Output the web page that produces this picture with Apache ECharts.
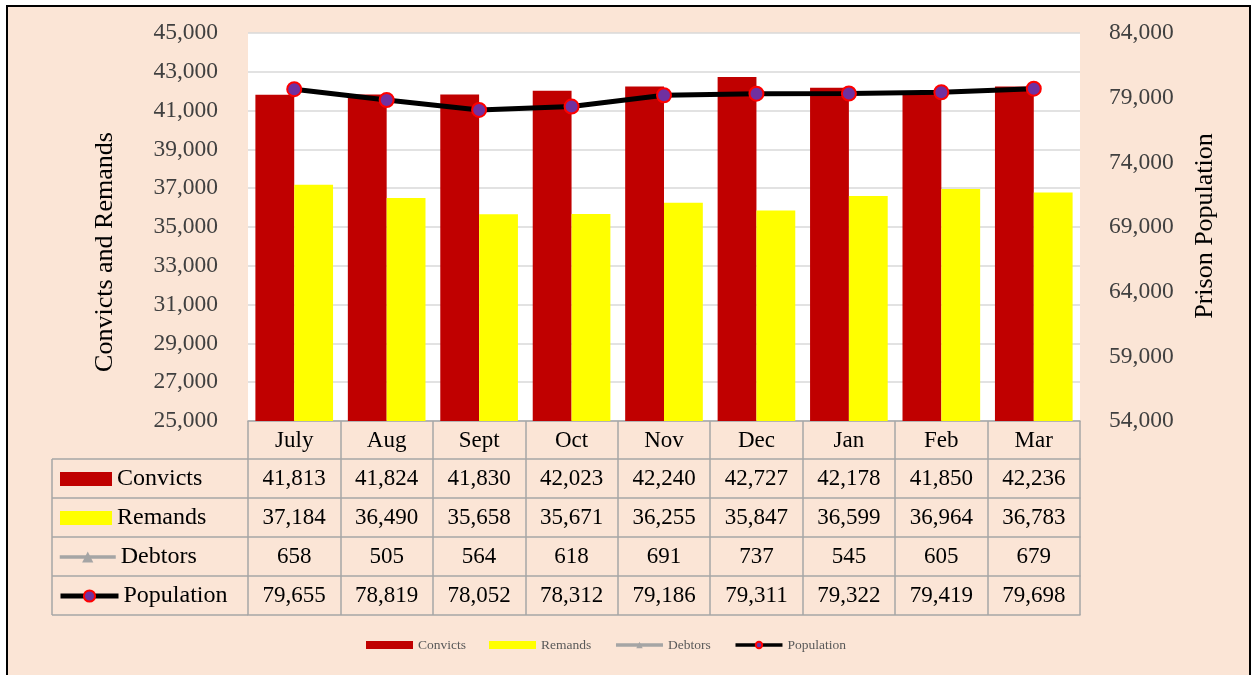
<!DOCTYPE html>
<html>
<head>
<meta charset="utf-8">
<script src="https://cdn.jsdelivr.net/npm/echarts@6/dist/echarts.min.js"></script>
<style>
  html, body { margin: 0; padding: 0; background: #fff; }
  #frame { position: absolute; left: 6px; top: 5px; width: 1241px; height: 700px;
           border: 2px solid #000; background: #FBE5D6; }
  #main { position: absolute; left: 0; top: 0; width: 1252px; height: 675px; }
</style>
</head>
<body>
<div id="frame"></div>
<div id="main"></div>
<script>
var months = ['July', 'Aug', 'Sept', 'Oct', 'Nov', 'Dec', 'Jan', 'Feb', 'Mar'];
var convicts = [41813, 41824, 41830, 42023, 42240, 42727, 42178, 41850, 42236];
var remands = [37184, 36490, 35658, 35671, 36255, 35847, 36599, 36964, 36783];
var debtors = [658, 505, 564, 618, 691, 737, 545, 605, 679];
var population = [79655, 78819, 78052, 78312, 79186, 79311, 79322, 79419, 79698];

var FONT = 'Liberation Serif';
var gridLine = '#A6A6A6';

function fmt(v) {
	return String(v).replace(/\B(?=(\d{3})+(?!\d))/g, ',');
}

// one x axis per table row, the ticks draw the cell walls
function tableAxis(offset, values, showTick) {
	return {
		type: 'category',
		data: months,
		gridIndex: 0,
		position: 'bottom',
		offset: offset,
		axisLine: { show: true, lineStyle: { color: gridLine, width: 1.5 } },
		axisTick: { show: showTick, alignWithLabel: false, interval: 0, length: offset === 0 ? 38 : 39,
			lineStyle: { color: gridLine, width: 1.5 } },
		axisLabel: {
			show: !!values, interval: 0, margin: 8,
			fontFamily: FONT, fontSize: 23, color: '#000',
			formatter: function (v, i) { return values === months ? v : fmt(values[i]); }
		},
		splitLine: { show: false }
	};
}

var rowTops = [459, 498, 537, 576, 615];
var graphics = [];
rowTops.forEach(function (y) {
	graphics.push({ type: 'line', shape: { x1: 52, y1: y, x2: 248, y2: y },
		style: { stroke: gridLine, lineWidth: 1.5 } });
});
graphics.push({ type: 'line', shape: { x1: 52, y1: 459, x2: 52, y2: 615 },
	style: { stroke: gridLine, lineWidth: 1.5 } });
// axis titles
graphics.push({ type: 'text', x: 105, y: 252, rotation: Math.PI / 2,
	style: { text: 'Convicts and Remands', fontFamily: FONT, fontSize: 26, fill: '#000',
		align: 'center', verticalAlign: 'middle' } });
graphics.push({ type: 'text', x: 1205, y: 226, rotation: Math.PI / 2,
	style: { text: 'Prison Population', fontFamily: FONT, fontSize: 26, fill: '#000',
		align: 'center', verticalAlign: 'middle' } });

function rowLegend(name, left, top, w, h, icon) {
	return {
		data: [{ name: name, icon: icon }], left: left, top: top, orient: 'vertical', padding: 0,
		itemWidth: w, itemHeight: h, selectedMode: false,
		lineStyle: { width: name === 'Population' ? 5 : 3.5 },
		textStyle: { fontFamily: FONT, fontSize: 24, color: '#000' }
	};
}

var dom = document.getElementById('main');
var myChart = echarts.init(dom, null, { renderer: 'canvas' });
var option = {
	backgroundColor: 'transparent',
	animation: false,
	graphic: graphics,
	grid: {
		left: 248, right: 172, top: 33, bottom: 254,
		show: true, backgroundColor: '#fff', borderWidth: 0
	},
	legend: [
		{
			data: [
				{ name: 'Convicts', icon: 'rect' },
				{ name: 'Remands', icon: 'rect' },
				{ name: 'Debtors' },
				{ name: 'Population' }
			],
			left: 361, top: 633, itemWidth: 47, itemHeight: 8, itemGap: 23,
			selectedMode: false, lineStyle: { width: 3.5 },
			textStyle: { fontFamily: FONT, fontSize: 13.5, color: '#595959' }
		},
		rowLegend('Convicts', 60, 467, 52, 14, 'rect'),
		rowLegend('Remands', 60, 506, 52, 14, 'rect'),
		rowLegend('Debtors', 58, 545, 56, 14),
		rowLegend('Population', 58, 584, 58, 14)
	],
	xAxis: [
		tableAxis(0, months, true),
		tableAxis(38, convicts, true),
		tableAxis(77, remands, true),
		tableAxis(116, debtors, true),
		tableAxis(155, population, true),
		tableAxis(194, null, false)
	],
	yAxis: [
		{
			type: 'value', min: 25000, max: 45000, interval: 2000,
			axisLine: { show: false }, axisTick: { show: false },
			axisLabel: { fontFamily: FONT, fontSize: 23.5, color: '#404040', margin: 30, formatter: fmt },
			splitLine: { lineStyle: { color: '#D9D9D9', width: 1.5 } }
		},
		{
			type: 'value', min: 54000, max: 84000, interval: 5000, position: 'right',
			axisLine: { show: false }, axisTick: { show: false },
			axisLabel: { fontFamily: FONT, fontSize: 23.5, color: '#404040', margin: 29, formatter: fmt },
			splitLine: { show: false }
		}
	],
	series: [
		{
			name: 'Convicts', type: 'bar', data: convicts, xAxisIndex: 0, yAxisIndex: 0,
			barCategoryGap: '16%', barGap: '0%', itemStyle: { color: '#C00000' }
		},
		{
			name: 'Remands', type: 'bar', data: remands, xAxisIndex: 0, yAxisIndex: 0,
			barCategoryGap: '16%', barGap: '0%', itemStyle: { color: '#FFFF00' }
		},
		{
			name: 'Debtors', type: 'line', data: debtors, xAxisIndex: 0, yAxisIndex: 0,
			clip: true, symbol: 'triangle', symbolSize: 10,
			lineStyle: { color: '#A5A5A5', width: 3.5 }, itemStyle: { color: '#A5A5A5' }
		},
		{
			name: 'Population', type: 'line', data: population, xAxisIndex: 0, yAxisIndex: 1,
			symbol: 'circle', symbolSize: 14, z: 5,
			lineStyle: { color: '#000', width: 5 },
			itemStyle: { color: '#7030A0', borderColor: '#FF0000', borderWidth: 2 }
		}
	]
};

if (option && typeof option === "object") {
	myChart.setOption(option, true);
}
</script>
</body>
</html>
